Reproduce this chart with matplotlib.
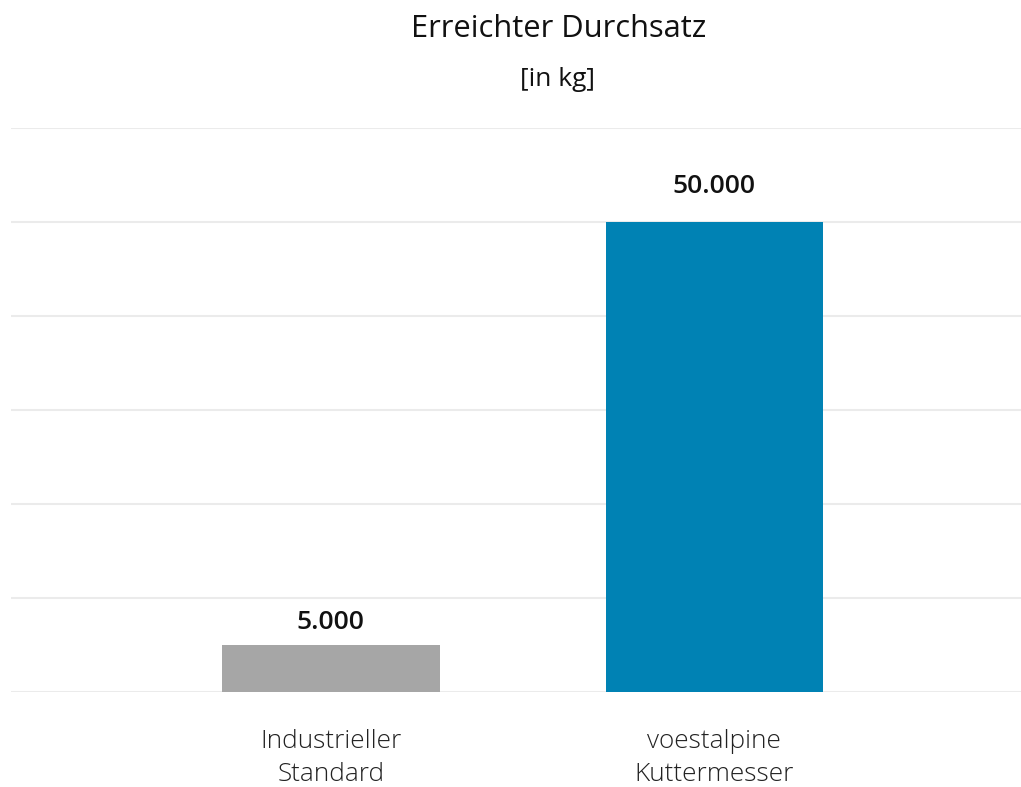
import matplotlib
matplotlib.use("Agg")
import matplotlib.pyplot as plt

categories = ["Industrieller\nStandard", "voestalpine\nKuttermesser"]
values = [5000, 50000]
value_labels = ["5.000", "50.000"]
colors = ["#a6a6a6", "#0082b4"]
title = "Erreichter Durchsatz"
subtitle = "[in kg]"
yticks = [0, 10000, 20000, 30000, 40000, 50000, 60000]

plt.rcParams['font.family'] = ['Open Sans', 'DejaVu Sans']

fig = plt.figure(figsize=(10.21, 7.87), dpi=100)
W, H = 1021, 787
ax = fig.add_axes([11 / W, (H - 692) / H, (W - 11) / W, (692 - 128) / H])

x = list(range(len(categories)))
ax.bar(x, values, width=0.567, color=colors, zorder=3)
ax.set_xlim(-0.834, 1.80)
ax.set_ylim(0, 60000)
ax.set_yticks(yticks)
ax.yaxis.grid(True, color="#ebebeb", linewidth=1.5, zorder=0)
ax.tick_params(axis="y", left=False, labelleft=False)
ax.set_xticks(x)
ax.set_xticklabels(categories, fontsize=18.8, color="#222222", linespacing=1.4,
                   fontweight="light")
ax.tick_params(axis="x", length=0, pad=27)
for s in ax.spines.values():
    s.set_visible(False)

offsets = [7.5, 16.5]
for xi, v, lab, off in zip(x, values, value_labels, offsets):
    ax.annotate(lab, (xi, v), xytext=(0, off), textcoords="offset points",
                ha="center", va="bottom", fontsize=19, fontweight="semibold",
                color="#111111")

fig.text(559 / W, 1 - 29 / H, title, ha="center", va="center",
         fontsize=22.2, color="#111111")
fig.text(558 / W, 1 - 80 / H, subtitle, ha="center", va="center",
         fontsize=19, color="#111111")

fig.savefig("out.png", dpi=100, facecolor="white")
